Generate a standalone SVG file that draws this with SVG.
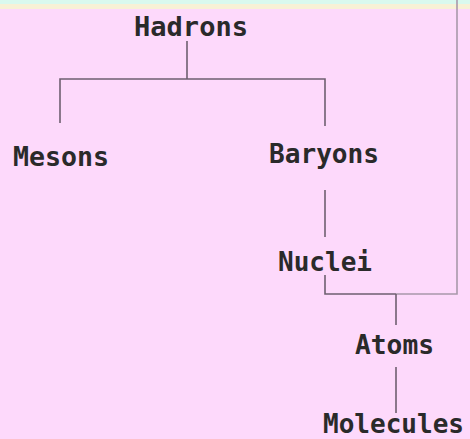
<svg xmlns="http://www.w3.org/2000/svg" width="470" height="439" viewBox="0 0 470 439">
  <style>
    .lbl { font-family: "DejaVu Sans Mono", "Liberation Mono", monospace; font-size: 26px; font-weight: bold; fill: #2a2a2a; }
    .c { stroke: #6e5f70; stroke-width: 1.6; fill: none; }
    .c2 { stroke: #a898aa; stroke-width: 1.6; fill: none; }
  </style>
  <rect x="0" y="0" width="470" height="439" fill="#fdd9fb"/>
  <rect x="0" y="0" width="470" height="4" fill="#d9f9ee"/>
  <rect x="0" y="4" width="470" height="5" fill="#f7f1d6"/>
  <g id="connectors">
    <path class="c" d="M187 41 V79 M60 123 V79 H325 V126"/>
    <path class="c" d="M325 190 V237"/>
    <path class="c" d="M325 275 V294 H396"/>
    <path class="c2" d="M396 294 H457 V0"/>
    <path class="c" d="M396 294 V325"/>
    <path class="c" d="M396 367 V413"/>
  </g>
  <g id="hadrons"><text class="lbl" x="134" y="36" textLength="114" lengthAdjust="spacingAndGlyphs">Hadrons</text></g>
  <g id="mesons"><text class="lbl" x="13" y="166" textLength="96" lengthAdjust="spacingAndGlyphs">Mesons</text></g>
  <g id="baryons"><text class="lbl" x="269" y="163" textLength="110" lengthAdjust="spacingAndGlyphs">Baryons</text></g>
  <g id="nuclei"><text class="lbl" x="278" y="271" textLength="94" lengthAdjust="spacingAndGlyphs">Nuclei</text></g>
  <g id="atoms"><text class="lbl" x="355" y="354" textLength="79" lengthAdjust="spacingAndGlyphs">Atoms</text></g>
  <g id="molecules"><text class="lbl" x="323" y="433" textLength="141" lengthAdjust="spacingAndGlyphs">Molecules</text></g>
</svg>
